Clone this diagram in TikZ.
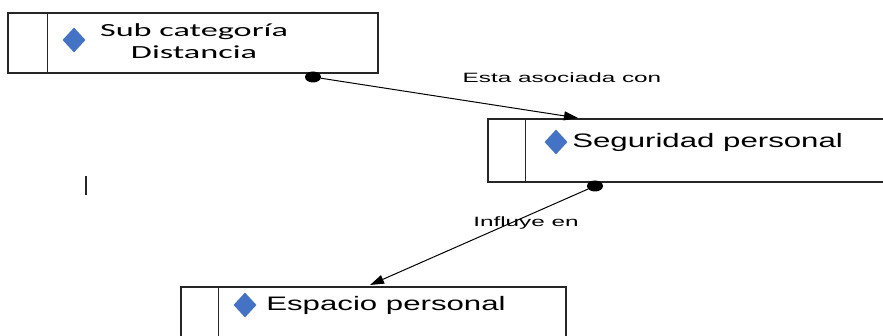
\documentclass[tikz,border=0pt]{standalone}
\usepackage{fontspec}
\setmainfont{Liberation Sans}
\newfontfamily\carlito{Carlito}
\usetikzlibrary{shapes.geometric, arrows.meta}
\definecolor{azul}{RGB}{68,114,196}
\begin{document}
\begin{tikzpicture}[x=1pt, y=-1pt,
    caja/.style={draw=black!85, line width=1.2pt, rectangle, inner sep=0pt},
    rombo/.style={diamond, fill=azul, inner sep=0pt, minimum width=23pt, minimum height=25pt},
    texto/.style={anchor=west, inner sep=0pt, font=\fontsize{19.5}{22}\selectfont, xscale=1.6, transform shape},
    etiqueta/.style={inner sep=0pt, font=\fontsize{13.5}{15}\selectfont, xscale=1.8, transform shape},
    punto/.style={ellipse, fill=black, inner sep=0pt, minimum width=16pt, minimum height=11pt},
    flecha/.style={-{Triangle[length=14pt, width=9pt]}, line width=1pt}]
    \useasboundingbox (0,0) rectangle (883,336);
    \clip (0,0) rectangle (883,336);

    \node[caja, minimum width=370pt, minimum height=60pt] (c1) at (193,43) {};
    \node[caja, minimum width=420pt, minimum height=63pt] (c2) at (698,150.5) {};
    \node[caja, minimum width=385pt, minimum height=66pt] (c3) at (373.5,320) {};
    \draw[line width=1.2pt, black!85] ([xshift=40pt]c1.north west) -- ([xshift=40pt]c1.south west);
    \draw[line width=1.2pt, black!85] ([xshift=38pt]c2.north west) -- ([xshift=38pt]c2.south west);
    \draw[line width=1.2pt, black!85] ([xshift=38pt]c3.north west) -- ([xshift=38pt]c3.south west);

    \node[rombo] (r1) at (74,40) {};
    \node[rombo] (r2) at (556,142) {};
    \node[rombo] (r3) at (245,305) {};

    \node[align=center, inner sep=0pt, font=\carlito\fontsize{18.5}{22}\selectfont, xscale=1.85, transform shape] (t1) at (194,41) {Sub categoría\\Distancia};
    \node[texto] (t2) at (572,142) {Seguridad personal};
    \node[texto] (t3) at (266,305) {Espacio personal};

    \node[etiqueta] (e1) at (562,78) {Esta asociada con};
    \node[etiqueta] (e2) at (526,223) {Influye en};

    \node[punto] (p1) at (313,77) {};
    \node[punto] (p2) at (595,186) {};
    \coordinate (f1) at (578,118);
    \coordinate (f2) at (370,285);
    \draw[flecha] (p1) -- (f1);
    \draw[flecha] (p2) -- (f2);

    \draw[line width=2.2pt, black!85] (86,176) -- (86,195);
\end{tikzpicture}
\end{document}
